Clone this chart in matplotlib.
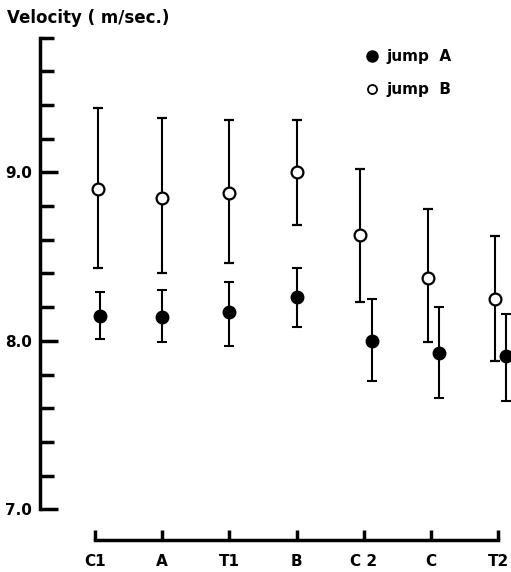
import numpy as np
import matplotlib
matplotlib.use("Agg")
import matplotlib.pyplot as plt
from matplotlib.lines import Line2D
from matplotlib.ticker import FixedLocator

# ---------------------------------------------------------------------------
#  data
# ---------------------------------------------------------------------------
categories = ["C1", "A", "T1", "B", "C 2", "C", "T2"]

jump_a_mean = [8.15, 8.14, 8.17, 8.26, 8.00, 7.93, 7.91]
jump_a_upper = [8.29, 8.30, 8.35, 8.43, 8.25, 8.20, 8.16]
jump_a_lower = [8.01, 7.99, 7.97, 8.08, 7.76, 7.66, 7.64]

jump_b_mean = [8.90, 8.85, 8.88, 9.00, 8.63, 8.37, 8.25]
jump_b_upper = [9.38, 9.32, 9.31, 9.31, 9.02, 8.78, 8.62]
jump_b_lower = [8.43, 8.40, 8.46, 8.69, 8.23, 7.99, 7.88]

y_major = [7.0, 8.0, 9.0]
y_minor = [7.2, 7.4, 7.6, 7.8, 8.2, 8.4, 8.6, 8.8, 9.2, 9.4, 9.6, 9.8]

plt.rcParams['font.family'] = ['DejaVu Sans']

fig = plt.figure(figsize=(5.11, 5.72), dpi=100)
ax = fig.add_axes([0, 0, 1, 1])
ax.patch.set_alpha(0)

x = np.arange(len(categories))
# small horizontal dodge of the points (as in the original drawing)
dodge_a = np.array([0.07, 0.0, 0.0, 0.0, 0.12, 0.12, 0.12])
dodge_b = np.array([0.04, 0.0, 0.0, 0.0, -0.05, -0.04, -0.05])

a_mean = np.array(jump_a_mean)
b_mean = np.array(jump_b_mean)
a_err = [a_mean - np.array(jump_a_lower), np.array(jump_a_upper) - a_mean]
b_err = [b_mean - np.array(jump_b_lower), np.array(jump_b_upper) - b_mean]

ax.errorbar(x + dodge_b, b_mean, yerr=b_err, fmt='o', color='black',
            mfc='white', mec='black', mew=1.6, ms=8.5, elinewidth=1.5,
            capsize=3.6, capthick=1.5, clip_on=False, zorder=3)
ax.errorbar(x + dodge_a, a_mean, yerr=a_err, fmt='o', color='black',
            mfc='black', mec='black', ms=9, elinewidth=1.5,
            capsize=3.6, capthick=1.5, clip_on=False, zorder=3)

# map data to the pixel geometry of the original
ax.set_xlim(-1.414, 6.190)
ax.set_ylim(6.628, 10.0226)

for s in ['top', 'right']:
    ax.spines[s].set_visible(False)
ax.spines['left'].set_position(('data', -0.818))
ax.spines['left'].set_bounds(7.0, 9.8)
ax.spines['left'].set_linewidth(2.5)
ax.spines['bottom'].set_position(('data', 6.818))
ax.spines['bottom'].set_bounds(0, 6)
ax.spines['bottom'].set_linewidth(2.5)

ax.yaxis.set_major_locator(FixedLocator(y_major))
ax.yaxis.set_minor_locator(FixedLocator(y_minor))
ax.set_yticklabels([f"{v:.1f}" for v in y_major], fontsize=11, fontweight='bold')
ax.tick_params(axis='y', which='major', direction='in', length=13, width=2.5, pad=6)
ax.tick_params(axis='y', which='minor', direction='in', length=10, width=2.5)

ax.set_xticks(x)
ax.set_xticklabels(categories, fontsize=11, fontweight='bold')
ax.tick_params(axis='x', which='major', direction='in', length=7, width=2.5, pad=10)

fig.text(7 / 511, 1 - 18 / 572, "Velocity ( m/sec.)", fontsize=12,
         fontweight='bold', va='center', ha='left')

handles = [
    Line2D([], [], ls='none', marker='o', color='black', ms=8),
    Line2D([], [], ls='none', marker='o', mfc='white', mec='black', mew=1.3, ms=6.5),
]
ax.legend(handles, ["jump  A", "jump  B"], loc='upper left',
          bbox_to_anchor=(364 / 511, 1 - 49 / 572), frameon=False,
          handlelength=1.0, handletextpad=0.5, labelspacing=1.2,
          prop={'size': 11, 'weight': 'bold'}, borderaxespad=0, borderpad=0)

fig.savefig("out.png", dpi=100)
